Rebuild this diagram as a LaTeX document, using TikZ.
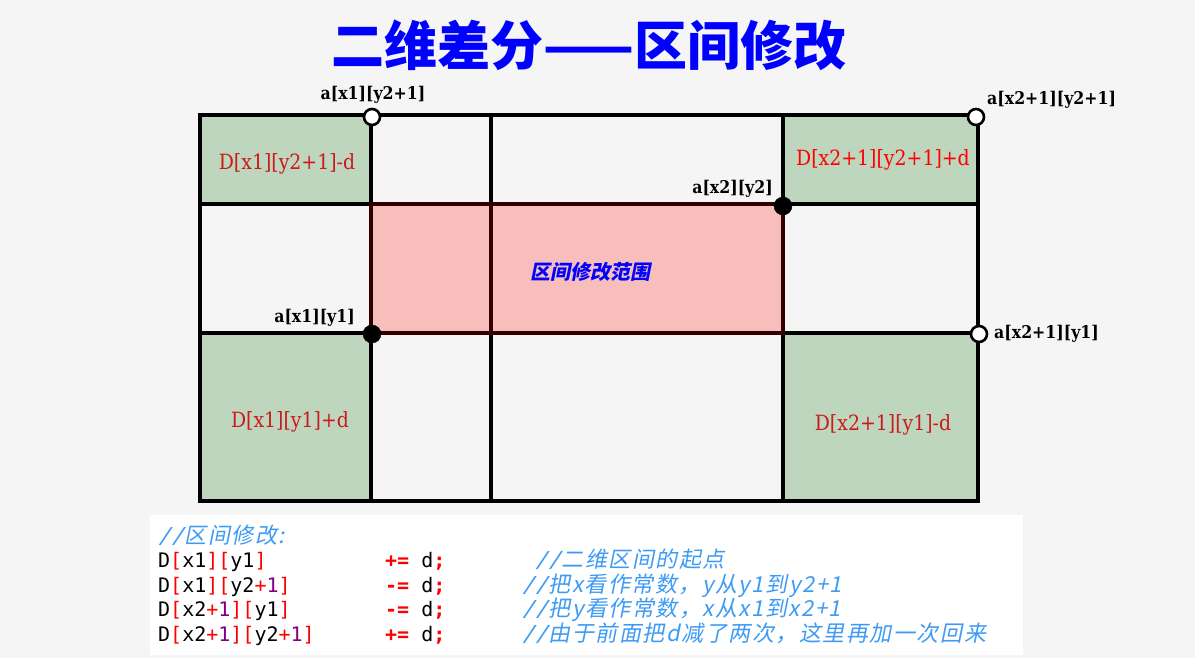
\documentclass[tikz,border=0pt]{standalone}
\usepackage{fontspec}
\newfontfamily\cjk{Noto Sans CJK SC}
\newfontfamily\cjksl{Noto Sans CJK SC}[FakeSlant=0.2]
\newfontfamily\cjkcmt{Noto Sans CJK SC}[FakeSlant=0.2,LetterSpace=7]
\newfontfamily\lab{DejaVu Serif}[FakeStretch=0.9]
\newfontfamily\mono{DejaVu Sans Mono}
\newfontfamily\monosl{DejaVu Sans Mono}[FakeSlant=0.2]
\definecolor{bg}{HTML}{F5F5F5}
\definecolor{cellgreen}{HTML}{BDD6BD}
\definecolor{cellpink}{HTML}{F8BEBC}
\definecolor{titleblue}{HTML}{0000FF}
\definecolor{dred}{HTML}{CC1A1A}
\definecolor{cred}{HTML}{FF0000}
\definecolor{cpurple}{HTML}{800080}
\definecolor{cmt}{HTML}{3D9BF5}
\newcommand\rd[1]{\textcolor{cred}{#1}}
\newcommand\pu[1]{\textcolor{cpurple}{#1}}
\tikzset{
  gridline/.style={line width=3.4pt, draw=black},
  opendot/.style={circle, draw=black, fill=white, line width=2.6pt, minimum size=16pt, inner sep=0pt},
  filldot/.style={circle, draw=black, fill=black, minimum size=18pt, inner sep=0pt},
  alab/.style={font=\lab\bfseries\fontsize{17.5}{19}\selectfont, text=black, inner sep=0pt},
  dlab/.style={font=\lab\fontsize{21}{23}\selectfont, inner sep=0pt},
  code/.style={font=\mono\fontsize{20}{22}\selectfont, anchor=base west, inner sep=0pt},
  cmtline/.style={font=\cjkcmt\fontsize{22}{24}\selectfont, text=cmt, anchor=base west, inner sep=0pt},
}
\begin{document}
\begin{tikzpicture}[x=1pt,y=-1pt]
\useasboundingbox (0,0) rectangle (1195,658);
\fill[bg] (0,0) rectangle (1195,658);
% title
\node[font=\cjk\bfseries\fontsize{53}{57}\selectfont, text=titleblue, inner sep=0pt] (title) at (589,45) {二维差分——区间修改};
% cells
\fill[cellgreen] (200,115) rectangle (371,204);
\fill[cellgreen] (783,115) rectangle (978,204);
\fill[cellgreen] (200,333) rectangle (371,501);
\fill[cellgreen] (783,333) rectangle (978,501);
\fill[cellpink] (371,204) rectangle (783,333);
% grid
\draw[gridline] (200,115) rectangle (978,501);
\draw[gridline] (200,204) -- (978,204);
\draw[gridline] (200,333) -- (978,333);
\draw[gridline] (371,115) -- (371,501);
\draw[gridline] (491,115) -- (491,501);
\draw[gridline] (783,115) -- (783,501);
\draw[line width=3.4pt, draw=black!80!red] (371,204) rectangle (783,333);
\draw[line width=3.4pt, draw=black!80!red] (491,204) -- (491,333);
% cell labels
\node[dlab, text=dred] (d1) at (287,164) {D[x1][y2+1]-d};
\node[dlab, text=cred] (d2) at (883,160) {D[x2+1][y2+1]+d};
\node[dlab, text=dred] (d3) at (290,422) {D[x1][y1]+d};
\node[dlab, text=dred] (d4) at (883,425) {D[x2+1][y1]-d};
\node[font=\cjksl\bfseries\fontsize{20}{22}\selectfont, text=titleblue, inner sep=0pt] (range) at (590,272) {区间修改范围};
% points
\node[opendot] (p1) at (372,117) {};
\node[opendot] (p2) at (976,117) {};
\node[opendot] (p3) at (979,334) {};
\node[filldot] (p4) at (783,206) {};
\node[filldot] (p5) at (372,334) {};
% point labels
\node[alab] (a1) at (373,95) {a[x1][y2+1]};
\node[alab, anchor=west] (a2) at (987,100) {a[x2+1][y2+1]};
\node[alab, anchor=east] (a3) at (773,189) {a[x2][y2]};
\node[alab, anchor=east] (a4) at (355,318) {a[x1][y1]};
\node[alab, anchor=west] (a5) at (994,334) {a[x2+1][y1]};
% code box
\fill[white] (150,515) rectangle (1023,655);
\node[cmtline] (c0) at (158,543) {{\monosl//}区间修改:};
\node[code] (l1) at (158,567) {D\rd{[}x1\rd{]}\rd{[}y1\rd{]}};
\node[code] (l2) at (158,592) {D\rd{[}x1\rd{]}\rd{[}y2\rd{+}\pu{1}\rd{]}};
\node[code] (l3) at (158,616) {D\rd{[}x2\rd{+}\pu{1}\rd{]}\rd{[}y1\rd{]}};
\node[code] (l4) at (158,641) {D\rd{[}x2\rd{+}\pu{1}\rd{]}\rd{[}y2\rd{+}\pu{1}\rd{]}};
\node[code] (o1) at (385,567) {\rd{\bfseries+=} d\rd{\bfseries;}};
\node[code] (o2) at (385,592) {\rd{\bfseries-=} d\rd{\bfseries;}};
\node[code] (o3) at (385,616) {\rd{\bfseries-=} d\rd{\bfseries;}};
\node[code] (o4) at (385,641) {\rd{\bfseries+=} d\rd{\bfseries;}};
\node[cmtline] (m1) at (535,567) {{\monosl//}二维区间的起点};
\node[cmtline] (m2) at (522,592) {{\monosl//}把x看作常数，y从y1到y2+1};
\node[cmtline] (m3) at (522,616) {{\monosl//}把y看作常数，x从x1到x2+1};
\node[cmtline] (m4) at (522,641) {{\monosl//}由于前面把d减了两次，这里再加一次回来};
\end{tikzpicture}
\end{document}
